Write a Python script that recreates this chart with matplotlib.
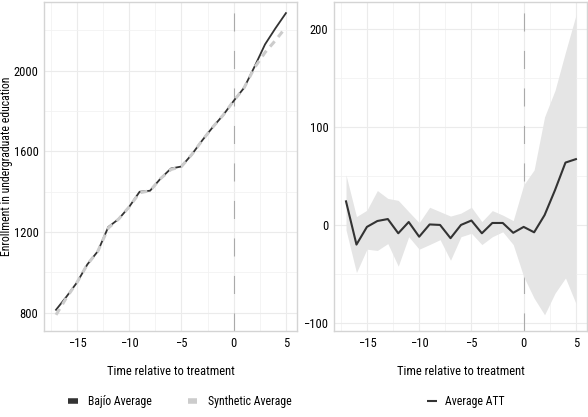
import matplotlib
matplotlib.use('Agg')
import matplotlib.pyplot as plt
from matplotlib.lines import Line2D
from matplotlib.ticker import MultipleLocator

plt.rcParams['font.family'] = ['Roboto Condensed', 'Liberation Sans Narrow', 'Roboto', 'DejaVu Sans']
plt.rcParams['lines.scale_dashes'] = False

time = list(range(-17, 6))

bajio = [815, 880, 950, 1040, 1105, 1225, 1265, 1325, 1400, 1405, 1465, 1515,
         1525, 1585, 1655, 1720, 1780, 1850, 1915, 2020, 2130, 2210, 2285]
synthetic = [790, 875, 950, 1040, 1105, 1220, 1265, 1325, 1395, 1405, 1465, 1510,
             1525, 1585, 1655, 1720, 1780, 1850, 1915, 2015, 2090, 2150, 2215]

att = [24, -20, -2, 4, 6, -8.5, 3, -12, 0.5, 0, -13.5, 0,
       4.5, -8.5, 2, 2, -8, -2, -7.5, 10, 35.5, 63.5, 67]
att_upper = [51, 8.5, 15, 35, 27, 25, 13.5, 2.3, 18, 13.5, 9, 12,
             18, 3.4, 14.6, 10, 4.4, 40.7, 56, 110, 137, 176, 213.5]
att_lower = [-5, -48.5, -24.7, -26, -19, -42, -12, -24.7, -20, -15, -36, -12,
             -8.5, -20, -12, -7, -20, -52.6, -74.6, -91.5, -69.5, -54, -80]

xticks = [-15, -10, -5, 0, 5]

fig = plt.figure(figsize=(5.88, 4.17), dpi=100)
W, H = 588, 417
ax1 = fig.add_axes([44 / W, (H - 331) / H, 253 / W, 329 / H])
ax2 = fig.add_axes([334 / W, (H - 331) / H, 253 / W, 329 / H])

vline_kw = dict(color='#aaaaaa', linewidth=0.8, dashes=(13, 14), zorder=1)

ax1.axvline(0, **vline_kw)
ax1.plot(time, bajio, color='#333333', linewidth=1.3, zorder=3)
ax1.plot(time, synthetic, color='#cccccc', linewidth=2.2, dashes=(5, 4), zorder=4)
ax1.set_ylim(710, 2340)
ax1.yaxis.set_major_locator(MultipleLocator(400))
ax1.yaxis.set_minor_locator(MultipleLocator(200))
ax1.set_ylabel('Enrollment in undergraduate education', fontsize=8.5)
ax1.yaxis.set_label_coords(-31 / 253, 0.5)

ax2.fill_between(time, att_lower, att_upper, color='#e5e5e5', linewidth=0, zorder=2)
ax2.axvline(0, **vline_kw)
ax2.plot(time, att, color='#333333', linewidth=1.5, zorder=3)
ax2.set_ylim(-108, 227)
ax2.yaxis.set_major_locator(MultipleLocator(100))
ax2.yaxis.set_minor_locator(MultipleLocator(50))

for ax in (ax1, ax2):
    ax.set_xlim(-18.15, 6.06)
    ax.set_xticks(xticks)
    ax.xaxis.set_minor_locator(MultipleLocator(2.5))
    ax.grid(which='major', color='#ebebeb', linewidth=0.8, zorder=0)
    ax.grid(which='minor', color='#f2f2f2', linewidth=0.6, zorder=0)
    ax.set_axisbelow(True)
    ax.tick_params(which='both', length=0, labelsize=9, colors='black', pad=4)
    for s in ax.spines.values():
        s.set_color('#d4d4d4')
        s.set_linewidth(1.0)
    ax.set_xlabel('Time relative to treatment', fontsize=9, labelpad=11)

h1 = [Line2D([], [], color='#333333', linewidth=4, solid_capstyle='butt'),
      Line2D([], [], color='#cccccc', linewidth=4, solid_capstyle='butt')]
fig.legend(h1, ['Bajío Average', 'Synthetic Average'], loc='center',
           bbox_to_anchor=(180 / W, 1 - 402 / H), ncol=2, frameon=False,
           fontsize=8.5, handlelength=0.8, columnspacing=3.0, handletextpad=0.9)
h2 = [Line2D([], [], color='#333333', linewidth=1.5, solid_capstyle='butt')]
fig.legend(h2, ['Average ATT'], loc='center',
           bbox_to_anchor=(466 / W, 1 - 402 / H), frameon=False,
           fontsize=8.5, handlelength=0.8, handletextpad=0.7)

fig.savefig('out.png', dpi=100)
